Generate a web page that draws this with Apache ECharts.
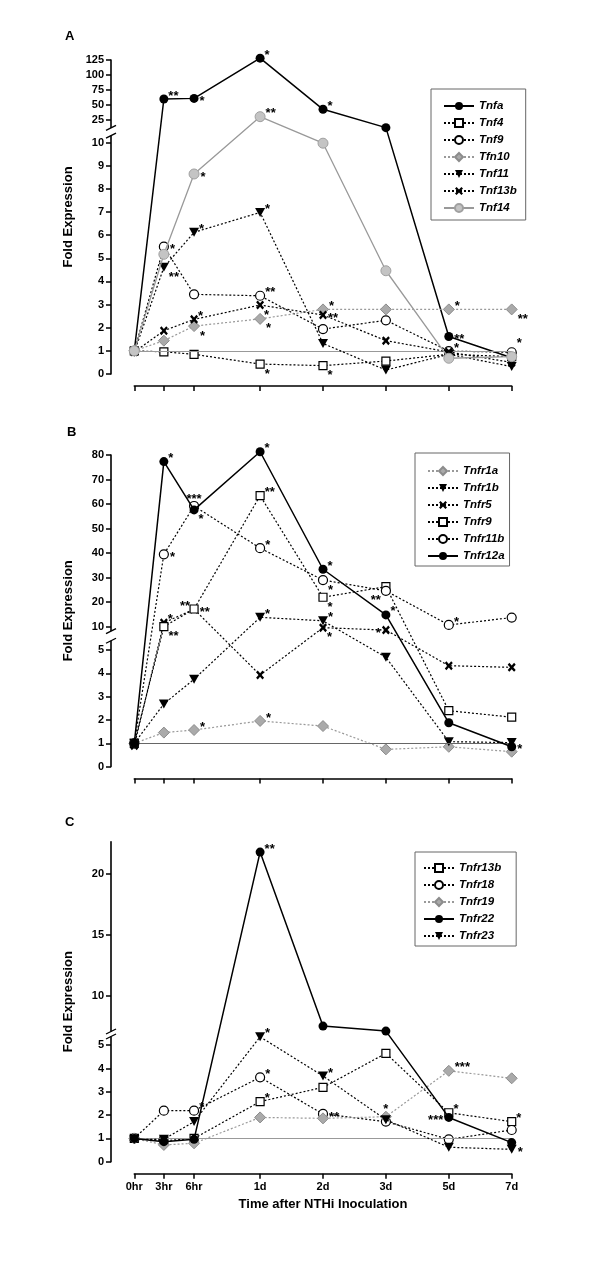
<!DOCTYPE html>
<html><head><meta charset="utf-8">
<script src="https://cdn.jsdelivr.net/npm/echarts@6/dist/echarts.min.js"></script>
<style>html,body{margin:0;padding:0;background:#fff}#c{width:600px;height:1262px}</style>
</head><body><div id="c"></div>
<script>
// ---------- DATA ----------
const timeLabels = ['0hr', '3hr', '6hr', '1d', '2d', '3d', '5d', '7d'];
const timePos = [0, 0.47, 0.95, 2, 3, 4, 5, 6];

// Panel A
const tnfa   = [1.0, 60, 61, 128, 42.8, 12.2, 1.62, 0.70];
const tnf4   = [1.0, 0.96, 0.85, 0.43, 0.36, 0.56, 0.85, 0.75];
const tnf9   = [1.0, 5.5, 3.44, 3.38, 1.94, 2.32, 0.99, 0.94];
const tfn10  = [1.0, 1.44, 2.07, 2.38, 2.79, 2.79, 2.79, 2.79];
const tnf11  = [0.95, 4.61, 6.12, 6.98, 1.32, 0.17, 0.85, 0.32];
const tnf13b = [0.95, 1.87, 2.36, 2.98, 2.55, 1.44, 0.95, 0.5];
const tnf14  = [1.0, 5.17, 8.64, 30.5, 9.97, 4.46, 0.68, 0.75];
const tnfaSig   = ['', '**', '*', '*', '*', '', '**', ''];
const tnf4Sig   = ['', '', '', '*', '*', '', '', ''];
const tnf9Sig   = ['', '*', '', '**', '', '', '*', '*'];
const tfn10Sig  = ['', '', '*', '*', '*', '', '*', '**'];
const tnf11Sig  = ['', '**', '*', '*', '', '', '', ''];
const tnf13bSig = ['', '', '*', '*', '**', '', '', ''];
const tnf14Sig  = ['', '', '*', '**', '', '', '', ''];
const ticksA = [0, 1, 2, 3, 4, 5, 6, 7, 8, 9, 10, 25, 50, 75, 100, 125];

// Panel B
const tnfr1a  = [1.0, 1.46, 1.57, 1.96, 1.74, 0.74, 0.85, 0.64];
const tnfr1b  = [1.0, 2.69, 3.75, 13.8, 12.4, 4.69, 1.07, 1.03];
const tnfr5   = [0.9, 11.6, 17.1, 3.93, 9.6, 8.6, 4.33, 4.26];
const tnfr9   = [1.0, 10.0, 17.2, 63.4, 22.0, 26.3, 2.4, 2.12];
const tnfr11b = [1.0, 39.5, 59.2, 42.0, 29.0, 24.6, 10.7, 13.7];
const tnfr12a = [1.0, 77.3, 57.6, 81.3, 33.4, 14.8, 1.88, 0.85];
const tnfr1aSig  = ['', '', '*', '*', '', '', '', ''];
const tnfr1bSig  = ['', '', '', '*', '*', '', '', ''];
const tnfr5Sig   = ['', '*', '**', '', '*', '*', '', ''];
const tnfr9Sig   = ['', '**', '**', '**', '*', '', '', ''];
const tnfr11bSig = ['', '*', '***', '*', '*', '**', '*', ''];
const tnfr12aSig = ['', '*', '*', '*', '*', '*', '', '*'];
const ticksB = [0, 1, 2, 3, 4, 5, 10, 20, 30, 40, 50, 60, 70, 80];

// Panel C
const tnfr13b = [1.0, 0.9, 1.0, 2.58, 3.19, 4.65, 2.1, 1.72];
const tnfr18  = [1.0, 2.19, 2.19, 3.62, 2.05, 1.72, 0.96, 1.36];
const tnfr19  = [1.0, 0.72, 0.79, 1.9, 1.86, 1.93, 3.9, 3.58];
const tnfr22  = [1.0, 0.86, 0.96, 21.8, 7.5, 7.09, 1.9, 0.82];
const tnfr23  = [0.95, 0.96, 1.72, 5.36, 3.68, 1.8, 0.62, 0.53];
const tnfr13bSig = ['', '', '', '*', '', '', '*', '*'];
const tnfr18Sig  = ['', '', '*', '*', '**', '', '', ''];
const tnfr19Sig  = ['', '', '', '', '', '*', '***', ''];
const tnfr22Sig  = ['', '', '', '**', '', '', '***', ''];
const tnfr23Sig  = ['', '', '', '*', '*', '', '', '*'];
const ticksC = [0, 1, 2, 3, 4, 5, 10, 15, 20];

// ---------- LAYOUT / STYLE ----------
const FONT = '"Liberation Sans", Arial, Helvetica, sans-serif';
const GRID_LEFT = 134.3, GRID_RIGHT = 88.3, Y_OFFSET = 23.3, X_OFFSET = 12;

const place = {
  ur:  {position: 'right', distance: 0, offset: [0, -3]},
  ur2: {position: 'right', distance: 0, offset: [0, -9]},
  r:   {position: 'right', distance: 1, offset: [0, 3]},
  lr:  {position: 'right', distance: 0, offset: [0, 10]},
  l:   {position: 'left', distance: 1, offset: [0, 3]},
  ul:  {position: 'left', distance: 0, offset: [0, -3]},
  ll:  {position: 'left', distance: 0, offset: [0, 10]},
  u:   {position: 'top', distance: 0, offset: [0, 5]}
};

const markers = {
  dot:     {symbol: 'circle', symbolSize: 9, itemStyle: {color: '#000'}},
  square:  {symbol: 'rect', symbolSize: 8, itemStyle: {color: '#fff', borderColor: '#000', borderWidth: 1.2}},
  ring:    {symbol: 'circle', symbolSize: 9, itemStyle: {color: '#fff', borderColor: '#000', borderWidth: 1.2}},
  diamond: {symbol: 'path://M5,0L10,5L5,10L0,5Z', symbolSize: 11, itemStyle: {color: '#aaa', borderColor: '#8c8c8c', borderWidth: 1}},
  tri:     {symbol: 'path://M0,0L10,0L5,9Z', symbolSize: [10, 9], itemStyle: {color: '#000'}},
  cross:   {symbol: 'path://M0,2L2,0L5,3L8,0L10,2L7,5L10,8L8,10L5,7L2,10L0,8L3,5Z', symbolSize: [8, 9], itemStyle: {color: '#000'}},
  greyDot: {symbol: 'circle', symbolSize: 10, itemStyle: {color: '#c4c4c4', borderColor: '#a0a0a0', borderWidth: 1}}
};
const lines = {
  blackSolid: {color: '#000', width: 1.5, type: 'solid'},
  blackDot:   {color: '#000', width: 1.2, type: [2, 2]},
  greyDot:    {color: '#999', width: 1.2, type: [2, 2]},
  greySolid:  {color: '#999', width: 1.3, type: 'solid'}
};

function makeScale(s) {
  const lowTop = s.lowMax * s.lowPx;
  const upBase = lowTop + s.gap;
  const total = upBase + (s.upMax - s.upMin) * s.upPx;
  const f = v => {
    if (v <= s.lowMax) return v * s.lowPx;
    if (v >= s.upMin) return upBase + (v - s.upMin) * s.upPx;
    return lowTop + (v - s.lowMax) / (s.upMin - s.lowMax) * s.gap;
  };
  return {f, lowTop, upBase, total};
}

const panels = [
  {
    letter: 'A', baseline: 374, baseColor: '#999', ticks: ticksA,
    segs: {lowMax: 10.3, lowPx: 23.15, gap: 7.6, upMin: 11.7, upMax: 125, upPx: 0.6},
    legend: {left: 431, top: 89, padding: [11, 9, 6, 12]},
    series: [
      {name: 'Tnfa', data: tnfa, sig: tnfaSig, plc: ['', 'ur', 'r', 'ur', 'ur', '', 'r', ''], m: 'dot', l: 'blackSolid'},
      {name: 'Tnf4', data: tnf4, sig: tnf4Sig, plc: ['', '', '', 'lr', 'lr', '', '', ''], m: 'square', l: 'blackDot'},
      {name: 'Tnf9', data: tnf9, sig: tnf9Sig, plc: ['', 'r', '', 'ur', '', '', 'ur', 'ur2'], m: 'ring', l: 'blackDot'},
      {name: 'Tfn10', data: tfn10, sig: tfn10Sig, plc: ['', '', 'lr', 'lr', 'ur', '', 'ur', 'lr'], m: 'diamond', l: 'greyDot'},
      {name: 'Tnf11', data: tnf11, sig: tnf11Sig, plc: ['', 'lr', 'ur', 'ur', '', '', '', ''], m: 'tri', l: 'blackDot'},
      {name: 'Tnf13b', data: tnf13b, sig: tnf13bSig, plc: ['', '', 'ur', 'lr', 'r', '', '', ''], m: 'cross', l: 'blackDot'},
      {name: 'Tnf14', data: tnf14, sig: tnf14Sig, plc: ['', '', 'r', 'ur', '', '', '', ''], m: 'greyDot', l: 'greySolid'}
    ]
  },
  {
    letter: 'B', baseline: 766.6, baseColor: '#666', ticks: ticksB,
    segs: {lowMax: 5.4, lowPx: 23.3, gap: 9.7, upMin: 8.2, upMax: 80, upPx: 2.453},
    legend: {left: 415, top: 453, padding: [12, 5, 4, 12]},
    series: [
      {name: 'Tnfr1a', data: tnfr1a, sig: tnfr1aSig, plc: ['', '', 'ur', 'ur', '', '', '', ''], m: 'diamond', l: 'greyDot'},
      {name: 'Tnfr1b', data: tnfr1b, sig: tnfr1bSig, plc: ['', '', '', 'ur', 'ur', '', '', ''], m: 'tri', l: 'blackDot'},
      {name: 'Tnfr5', data: tnfr5, sig: tnfr5Sig, plc: ['', 'ur', 'ul', '', 'lr', 'l', '', ''], m: 'cross', l: 'blackDot'},
      {name: 'Tnfr9', data: tnfr9, sig: tnfr9Sig, plc: ['', 'lr', 'r', 'ur', 'lr', '', '', ''], m: 'square', l: 'blackDot'},
      {name: 'Tnfr11b', data: tnfr11b, sig: tnfr11bSig, plc: ['', 'r', 'u', 'ur', 'lr', 'll', 'ur', ''], m: 'ring', l: 'blackDot'},
      {name: 'Tnfr12a', data: tnfr12a, sig: tnfr12aSig, plc: ['', 'ur', 'lr', 'ur', 'ur', 'ur', '', 'r'], m: 'dot', l: 'blackSolid'}
    ]
  },
  {
    letter: 'C', baseline: 1161.7, baseColor: '#999', ticks: ticksC,
    segs: {lowMax: 5.4, lowPx: 23.3, gap: 3.7, upMin: 7.0, upMax: 22.65, upPx: 12.17},
    legend: {left: 415, top: 852, padding: [10, 15, 4, 8]},
    series: [
      {name: 'Tnfr13b', data: tnfr13b, sig: tnfr13bSig, plc: ['', '', '', 'ur', '', '', 'ur', 'ur'], m: 'square', l: 'blackDot'},
      {name: 'Tnfr18', data: tnfr18, sig: tnfr18Sig, plc: ['', '', 'ur', 'ur', 'r', '', '', ''], m: 'ring', l: 'blackDot'},
      {name: 'Tnfr19', data: tnfr19, sig: tnfr19Sig, plc: ['', '', '', '', '', 'u', 'ur', ''], m: 'diamond', l: 'greyDot'},
      {name: 'Tnfr22', data: tnfr22, sig: tnfr22Sig, plc: ['', '', '', 'ur', '', '', 'l', ''], m: 'dot', l: 'blackSolid'},
      {name: 'Tnfr23', data: tnfr23, sig: tnfr23Sig, plc: ['', '', '', 'ur', 'ur', '', '', 'r'], m: 'tri', l: 'blackDot'}
    ]
  }
];

// ---------- BUILD ----------
const grid = [], xAxis = [], yAxis = [], series = [], legend = [];
panels.forEach((p, i) => {
  const sc = makeScale(p.segs);
  p.sc = sc;
  grid.push({left: GRID_LEFT, right: GRID_RIGHT, top: p.baseline - sc.total, height: sc.total, outerBoundsMode: 'none'});
  xAxis.push({
    type: 'value', gridIndex: i, min: 0, max: 6, offset: X_OFFSET,
    axisLine: {show: true, onZero: false, lineStyle: {color: '#000', width: 1.6}},
    axisTick: {show: true, length: 5, customValues: timePos, lineStyle: {color: '#000', width: 1.5}},
    axisLabel: {show: i === 2, customValues: timePos, margin: 8,
      formatter: v => { const k = timePos.findIndex(t => Math.abs(t - v) < 1e-6); return k >= 0 ? timeLabels[k] : ''; },
      fontSize: 11, fontWeight: 'bold', color: '#000', fontFamily: FONT},
    splitLine: {show: false},
    name: i === 2 ? 'Time after NTHi Inoculation' : '', nameLocation: 'middle', nameGap: 24,
    nameTextStyle: {fontSize: 13, fontWeight: 'bold', color: '#000', fontFamily: FONT}
  });
  const tickDisp = p.ticks.map(sc.f);
  yAxis.push({
    type: 'value', gridIndex: i, min: 0, max: sc.total, offset: Y_OFFSET,
    axisLine: {show: true, onZero: false, lineStyle: {color: '#000', width: 1.6}},
    axisTick: {show: true, length: 5, customValues: tickDisp, lineStyle: {color: '#000', width: 1.5}},
    axisLabel: {show: true, customValues: tickDisp, margin: 7,
      formatter: v => { const k = tickDisp.findIndex(t => Math.abs(t - v) < 1e-3); return k >= 0 ? String(p.ticks[k]) : ''; },
      fontSize: 11, fontWeight: 'bold', color: '#000', fontFamily: FONT},
    splitLine: {show: false},
    name: 'Fold Expression', nameLocation: 'middle', nameGap: 36, nameRotate: 90,
    nameTextStyle: {fontSize: 13, fontWeight: 'bold', color: '#000', fontFamily: FONT}
  });
  legend.push(Object.assign({
    orient: 'vertical', selectedMode: false, data: p.series.map(s => s.name),
    itemWidth: 30, itemHeight: 10, itemGap: 5, borderColor: '#666', borderWidth: 1,
    textStyle: {fontSize: 11.5, fontWeight: 'bold', fontStyle: 'italic', color: '#000', fontFamily: FONT, lineHeight: 10}
  }, p.legend));
  p.series.forEach((s, j) => {
    const mk = markers[s.m];
    const data = s.data.map((v, k) => {
      const item = {value: [timePos[k], sc.f(v)]};
      if (s.sig[k]) item.label = Object.assign({show: true, formatter: s.sig[k]}, place[s.plc[k]]);
      return item;
    });
    const ser = {
      type: 'line', name: s.name, xAxisIndex: i, yAxisIndex: i, data,
      symbol: mk.symbol, symbolSize: mk.symbolSize, showSymbol: true, showAllSymbol: true,
      itemStyle: Object.assign({}, mk.itemStyle), lineStyle: Object.assign({}, lines[s.l]),
      clip: false, animation: false, z: 2 + j,
      label: {show: false, fontSize: 13, fontWeight: 'bold', color: '#000', fontFamily: FONT},
      emphasis: {disabled: true}
    };
    if (j === 0) {
      ser.markLine = {silent: true, symbol: 'none', label: {show: false}, animation: false,
        lineStyle: {color: p.baseColor, type: 'solid', width: 1.2},
        data: [{yAxis: sc.f(1)}]};
    }
    series.push(ser);
  });
});

const chart = echarts.init(document.getElementById('c'), null, {renderer: 'canvas'});
chart.setOption({animation: false, backgroundColor: '#fff', grid, xAxis, yAxis, legend, series});

// axis breaks + panel letters
const graphic = [];
const letterPos = [[65, 30], [67, 426], [65, 816]];
panels.forEach((p, i) => {
  const axX = GRID_LEFT - Y_OFFSET;
  const yLow = chart.convertToPixel({yAxisIndex: i}, p.sc.lowTop);
  const yUp = chart.convertToPixel({yAxisIndex: i}, p.sc.upBase);
  const mid = (yLow + yUp) / 2;
  const h = Math.max(Math.abs(yLow - yUp), 5);
  graphic.push({type: 'rect', z: 100, shape: {x: axX - 6, y: mid - h / 2, width: 12, height: h}, style: {fill: '#fff'}});
  [mid - h / 2, mid + h / 2].forEach(yy => graphic.push({
    type: 'line', z: 101, shape: {x1: axX - 5, y1: yy + 2.5, x2: axX + 5, y2: yy - 2.5},
    style: {stroke: '#000', lineWidth: 1.3}
  }));
  graphic.push({type: 'text', z: 101, x: letterPos[i][0], y: letterPos[i][1],
    style: {text: p.letter, fontSize: 13, fontWeight: 'bold', fill: '#000', font: 'bold 13px ' + FONT}});
});
chart.setOption({graphic});
</script></body></html>
